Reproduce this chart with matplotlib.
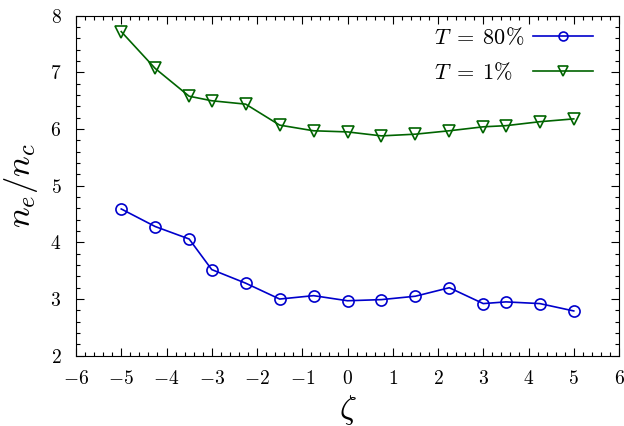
import matplotlib
matplotlib.use("Agg")
import matplotlib.pyplot as plt
from matplotlib.ticker import MultipleLocator, FuncFormatter

plt.rcParams['mathtext.fontset'] = 'cm'
plt.rcParams['font.family'] = 'serif'
plt.rcParams['font.serif'] = ['cmr10', 'DejaVu Serif']

zeta = [-5, -4.25, -3.5, -3, -2.25, -1.5, -0.75, 0, 0.75, 1.5, 2.25, 3, 3.5, 4.25, 5]
ne_T80 = [4.59, 4.28, 4.06, 3.52, 3.28, 3.00, 3.06, 2.97, 2.99, 3.05, 3.20, 2.92, 2.95, 2.92, 2.79]
ne_T1 = [7.72, 7.07, 6.58, 6.50, 6.44, 6.07, 5.97, 5.95, 5.88, 5.91, 5.97, 6.04, 6.06, 6.13, 6.18]

fig = plt.figure(figsize=(6.24, 4.26), dpi=100)
ax = fig.add_axes([0.1218, 0.165, 0.8702, 0.798])

ax.plot(zeta, ne_T80, color='#0000cc', lw=1.2, marker='o', markersize=8,
        markerfacecolor='none', markeredgewidth=1.2, label=r'$T\;=\;80\%$')
ax.plot(zeta, ne_T1, color='#006400', lw=1.2, marker='v', markersize=8.5,
        markerfacecolor='none', markeredgewidth=1.2, label=r'$T\;=\;1\%$')

ax.set_xlim(-6, 6)
ax.set_ylim(2, 8)
ax.xaxis.set_major_locator(MultipleLocator(1))
ax.xaxis.set_minor_locator(MultipleLocator(0.2))
ax.yaxis.set_major_locator(MultipleLocator(1))
ax.yaxis.set_minor_locator(MultipleLocator(0.2))
fmt = FuncFormatter(lambda v, p: r'$%d$' % round(v))
ax.xaxis.set_major_formatter(fmt)
ax.yaxis.set_major_formatter(fmt)
ax.tick_params(which='both', direction='in', top=True, right=True, labelsize=14)
ax.tick_params(which='major', length=6, width=0.8)
ax.tick_params(which='minor', length=3, width=0.8)
ax.tick_params(axis='x', which='major', pad=10)
ax.tick_params(axis='y', which='major', pad=10.5)

ax.set_xlabel(r'$\zeta$', fontsize=24, labelpad=4)
ax.set_ylabel(r'$n_e/n_c$', fontsize=25, labelpad=7)

leg = ax.legend(loc='upper right', bbox_to_anchor=(0.969, 0.995), frameon=False,
                markerfirst=False, fontsize=16, handlelength=2.7, handletextpad=0.4,
                borderaxespad=0, labelspacing=0.6, markerscale=0.8)

# left-align the legend texts (gnuplot style) while keeping the samples lined up
fig.canvas.draw()
r = fig.canvas.get_renderer()
widths = [t.get_window_extent(r).width for t in leg.get_texts()]
for col in leg._legend_handle_box.get_children():
    col.align = 'left'
    for row, w in zip(col.get_children(), widths):
        row.sep += (max(widths) - w) * 72 / fig.dpi

fig.savefig('out.png', dpi=100)
